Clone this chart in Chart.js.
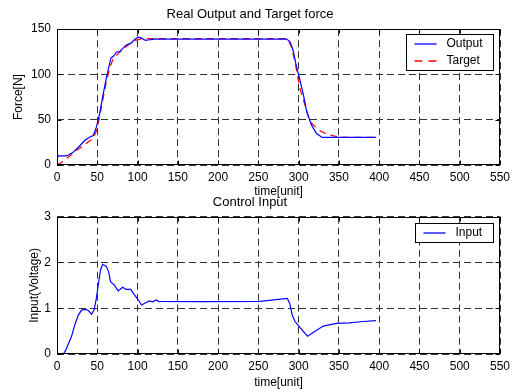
<!DOCTYPE html>
<html>
<head>
<meta charset="utf-8">
<script src="https://cdn.jsdelivr.net/npm/chart.js@4/dist/chart.umd.min.js"></script>
<style>
  html, body { margin: 0; padding: 0; background: #fff; }
  #wrap { position: relative; width: 519px; height: 392px; overflow: hidden; }
  canvas { position: absolute; left: 0; }
  #top { top: 0; }
  #bottom { top: 192px; }
</style>
</head>
<body>
<div id="wrap">
  <canvas id="top" width="519" height="200"></canvas>
  <canvas id="bottom" width="519" height="200"></canvas>
</div>
<script>
// Données
const timeTicks = [0, 50, 100, 150, 200, 250, 300, 350, 400, 450, 500, 550];
const forceTicks = [0, 50, 100, 150];
const inputTicks = [0, 1, 2, 3];

const outputT = [0, 2, 12, 20, 28, 35, 41, 45, 49, 53, 57.5, 61.5, 64, 67, 70, 74, 78, 82, 86, 92, 97, 101, 105, 110, 113, 121, 130, 200, 270, 285, 289, 293, 297, 301, 306, 310, 316, 322, 329, 340, 396];
const outputF = [8, 10, 10, 14, 21, 27.5, 31, 32.5, 42, 57, 79, 97, 107, 118, 120, 125, 125, 129, 132.5, 134.5, 139, 141, 140, 137.5, 138, 139, 139, 139, 139, 139, 136.5, 127, 110, 96, 77, 59, 44, 35, 30.5, 30.5, 30.5];

const targetT = [0, 6, 16, 24, 33, 41, 45, 49, 53, 57.5, 62, 66, 70, 76, 82, 90, 97, 103, 115, 200, 286, 291, 295.5, 298.5, 302, 308, 314, 322, 329, 339, 349, 360, 396];
const targetF = [0, 3, 10, 16, 21.5, 27, 29, 38, 53, 75, 95, 108.5, 118, 123, 128, 133.5, 137.5, 139, 139.5, 139.5, 139.5, 130.5, 114, 99, 83, 66, 48, 41, 36.5, 33, 31, 30.5, 30.5];

const inputT = [0, 8, 11, 14, 18, 22, 26.5, 30.5, 35, 39, 43, 46, 48.5, 51.5, 54, 56.5, 61, 64, 66.5, 71, 76, 81.5, 85.5, 91.5, 95, 101, 105, 109, 114.5, 118.5, 123.5, 126, 180, 252, 286, 289, 292, 295.5, 301.5, 311, 318, 330.5, 347, 363, 380, 396];
const inputV = [0, 0, 0.09, 0.22, 0.38, 0.63, 0.85, 0.96, 0.975, 0.95, 0.87, 0.96, 1.18, 1.54, 1.83, 1.96, 1.92, 1.8, 1.58, 1.51, 1.38, 1.46, 1.41, 1.41, 1.32, 1.18, 1.07, 1.11, 1.16, 1.14, 1.18, 1.15, 1.145, 1.15, 1.215, 1.1, 0.85, 0.71, 0.58, 0.39, 0.47, 0.61, 0.67, 0.68, 0.71, 0.73];

const FONT = 'Liberation Sans, Arial, sans-serif';
Chart.defaults.color = '#000';
Chart.defaults.font.family = FONT;
Chart.defaults.font.size = 12;

function pts(xs, ys) {
  return xs.map((x, i) => ({ x: x, y: ys[i] }));
}

// cadre noir, graduations internes et légende dans la zone du graphe
const matlabFrame = {
  id: 'matlabFrame',
  afterDraw(chart) {
    const { ctx, chartArea: a, scales } = chart;
    const L = Math.round(a.left) + 0.5, R = Math.round(a.right) - 0.5;
    const T = Math.round(a.top) + 0.5, B = Math.round(a.bottom) - 0.5;
    ctx.save();
    ctx.setLineDash([]);
    ctx.strokeStyle = '#000';
    ctx.lineWidth = 1;
    ctx.beginPath();
    scales.x.ticks.forEach(t => {
      const p = Math.round(scales.x.getPixelForValue(t.value)) + 0.5;
      ctx.moveTo(p, T); ctx.lineTo(p, T + 4);
      ctx.moveTo(p, B); ctx.lineTo(p, B - 4);
    });
    scales.y.ticks.forEach(t => {
      const p = Math.round(scales.y.getPixelForValue(t.value)) + 0.5;
      ctx.moveTo(L, p); ctx.lineTo(L + 4, p);
      ctx.moveTo(R, p); ctx.lineTo(R - 4, p);
    });
    ctx.stroke();
    ctx.strokeRect(L, T, R - L, B - T);

    // légende
    const sets = chart.data.datasets;
    ctx.font = '12px ' + FONT;
    const tw = Math.max(...sets.map(d => ctx.measureText(d.label).width));
    const w = Math.round(8 + 22 + 10 + tw + 11);
    const h = sets.length * 17 + 2;
    const bx = Math.round(a.right - 7 - w) + 0.5;
    const by = Math.round(a.top + chart.options.plugins.matlabFrame.legendTop) + 0.5;
    ctx.fillStyle = '#fff';
    ctx.fillRect(bx, by, w, h);
    ctx.strokeStyle = '#000';
    ctx.strokeRect(bx, by, w, h);
    sets.forEach((d, i) => {
      const opts = chart.getDatasetMeta(i).dataset.options;
      const cy = Math.round(by + 9 + i * 17);
      ctx.beginPath();
      ctx.strokeStyle = opts.borderColor;
      ctx.lineWidth = 1.3;
      ctx.setLineDash(opts.borderDash && opts.borderDash.length ? [8, 6] : []);
      ctx.moveTo(bx + 8, cy);
      ctx.lineTo(bx + 30, cy);
      ctx.stroke();
      ctx.setLineDash([]);
      ctx.fillStyle = '#000';
      ctx.textBaseline = 'middle';
      ctx.textAlign = 'left';
      ctx.fillText(d.label, bx + 40, cy);
    });
    ctx.restore();
  }
};

function makeOptions(cfg) {
  return {
    responsive: false,
    animation: false,
    devicePixelRatio: 1,
    layout: { padding: { left: 0, right: 19, top: 0, bottom: 0 } },
    elements: { point: { radius: 0 }, line: { tension: 0 } },
    plugins: {
      legend: { display: false },
      tooltip: { enabled: false },
      title: {
        display: true,
        text: cfg.title,
        color: '#000',
        font: { size: 13, weight: 'normal' },
        padding: cfg.titlePad
      },
      matlabFrame: { legendTop: cfg.legendTop }
    },
    scales: {
      x: {
        type: 'linear',
        min: 0, max: 550,
        afterBuildTicks: s => { s.ticks = timeTicks.map(v => ({ value: v })); },
        afterFit: s => { s.height = cfg.xHeight; },
        ticks: { padding: 5, color: '#000', font: { size: 12 } },
        grid: { color: '#333', lineWidth: 1, drawTicks: false },
        border: { display: false, dash: [7, 4] },
        title: { display: true, text: 'time[unit]', color: '#000', font: { size: 12 }, padding: { top: 0, bottom: cfg.xTitleBottom } }
      },
      y: {
        type: 'linear',
        min: cfg.yTicks[0], max: cfg.yTicks[cfg.yTicks.length - 1],
        afterBuildTicks: s => { s.ticks = cfg.yTicks.map(v => ({ value: v })); },
        afterFit: s => { s.width = 57; },
        ticks: { padding: 6, color: '#000', font: { size: 12 } },
        grid: { color: '#333', lineWidth: 1, drawTicks: false },
        border: { display: false, dash: [7, 4] },
        title: { display: true, text: cfg.yTitle, color: '#000', font: { size: 12 }, padding: { top: cfg.yTitleLeft, bottom: 0 } }
      }
    }
  };
}

new Chart(document.getElementById('top'), {
  type: 'line',
  data: {
    datasets: [{
      label: 'Output',
      data: pts(outputT, outputF),
      borderColor: '#0000ff',
      borderWidth: 1.2,
      fill: false
    }, {
      label: 'Target',
      data: pts(targetT, targetF),
      borderColor: '#ff0000',
      borderWidth: 1.2,
      borderDash: [7, 5],
      fill: false
    }]
  },
  options: makeOptions({
    title: 'Real Output and Target force',
    titlePad: { top: 7, bottom: 6.5 },
    xHeight: 35,
    xTitleBottom: 1,
    yTicks: forceTicks,
    yTitle: 'Force[N]',
    yTitleLeft: 11,
    legendTop: 5
  }),
  plugins: [matlabFrame]
});

new Chart(document.getElementById('bottom'), {
  type: 'line',
  data: {
    datasets: [{
      label: 'Input',
      data: pts(inputT, inputV),
      borderColor: '#0000ff',
      borderWidth: 1.2,
      fill: false
    }]
  },
  options: makeOptions({
    title: 'Control Input',
    titlePad: { top: 2.2, bottom: 6.9 },
    xHeight: 38,
    xTitleBottom: 1.8,
    yTicks: inputTicks,
    yTitle: 'Input(Voltage)',
    yTitleLeft: 27,
    legendTop: 6.3
  }),
  plugins: [matlabFrame]
});
</script>
</body>
</html>
